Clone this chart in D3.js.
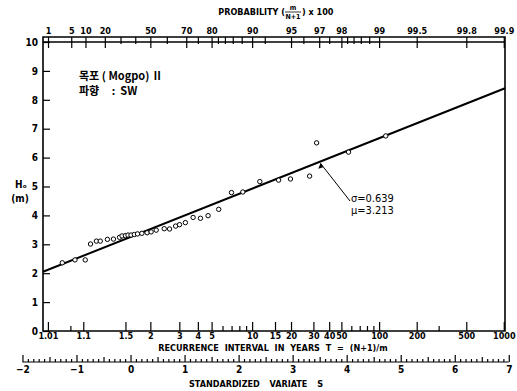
<!DOCTYPE html>
<html>
<head>
<meta charset="utf-8">
<script src="https://cdn.jsdelivr.net/npm/d3@7"></script>
<style>
  body { margin: 0; background: #fff; }
  text { font-family: "DejaVu Sans Condensed", "DejaVu Sans", sans-serif; fill: #000; }
  .kr { font-family: "Noto Sans CJK KR", sans-serif; white-space: pre; }
</style>
</head>
<body>
<div id="viz"></div>
<script>
// recurrence interval T (years) and wave height H0 (m) of the plotted points
const pointT = [1.03, 1.065, 1.11, 1.14, 1.18, 1.21, 1.275, 1.34, 1.415, 1.45, 1.5, 1.54, 1.59,
  1.65, 1.71, 1.8, 1.92, 2.02, 2.16, 2.41, 2.6, 2.84, 3.01, 3.29, 3.71, 4.17, 4.72, 5.63,
  6.99, 8.5, 11.45, 16, 19.8, 28, 31.8, 57, 113]
const pointH = [2.36, 2.46, 2.46, 3.01, 3.11, 3.11, 3.17, 3.18, 3.24, 3.29, 3.3, 3.32, 3.32,
  3.34, 3.36, 3.38, 3.4, 3.43, 3.49, 3.54, 3.53, 3.63, 3.68, 3.75, 3.93, 3.9, 3.99, 4.21,
  4.79, 4.81, 5.17, 5.22, 5.26, 5.36, 6.51, 6.19, 6.75]

// fitted line, ends at the plot edges (standardized variate S, H0)
const fitS = [-1.62, 6.93]
const fitH = [2.05, 8.4]

// tick labels
const hTicks = [0, 1, 2, 3, 4, 5, 6, 7, 8, 9, 10]
const tMajor = [1.01, 1.1, 1.5, 2, 3, 4, 5, 10, 15, 20, 30, 40, 50, 100, 200, 500, 1000]
const tMinor = [1.05, 6, 7, 8, 9, 60, 70, 80, 90, 300]
const pMajor = [1, 5, 10, 20, 50, 70, 80, 90, 95, 97, 98, 99, 99.5, 99.8, 99.9]
const pMinor = [30, 40, 60, 75, 82, 84, 86, 88, 92, 96, 97.5, 98.2, 98.4, 98.6, 98.8]
const sMajor = [-2, -1, 0, 1, 2, 3, 4, 5, 6, 7]

document.addEventListener("DOMContentLoaded", () => {

  const width = 517
  const height = 391

  const svg = d3.select("#viz").append("svg")
    .attr("width", width)
    .attr("height", height)

  // gumbel reduced variate
  const fromT = t => -Math.log(-Math.log(1 - 1 / t))
  const fromP = p => -Math.log(-Math.log(p / 100))

  const x = d3.scaleLinear().domain([-1.62, 6.93]).range([43, 505])
  const y = d3.scaleLinear().domain([0, 10]).range([331, 42])
  const topY = 37

  // frame
  svg.append("path")
    .attr("d", `M${x.range()[0]},${topY}V${y(0)}H${x.range()[1]}V${topY}Z`)
    .attr("fill", "none").attr("stroke", "#000").attr("stroke-width", 1.6)
  svg.append("line")
    .attr("x1", x.range()[0]).attr("x2", x.range()[1])
    .attr("y1", y(10)).attr("y2", y(10))
    .attr("stroke", "#000").attr("stroke-width", 1.3)

  const styleAxis = g => {
    g.select(".domain").remove()
    g.selectAll("line").attr("stroke", "#000").attr("stroke-width", 1.2)
    g.selectAll("text").attr("font-size", 9).attr("font-weight", "bold")
  }

  // H axis
  svg.append("g")
    .attr("transform", `translate(${x.range()[0]},0)`)
    .call(d3.axisLeft(y).tickValues(hTicks).tickSize(-7).tickPadding(5).tickFormat(d3.format("d")))
    .call(styleAxis)
    .selectAll("text").attr("font-size", 10)

  // recurrence interval axis
  svg.append("g")
    .attr("transform", `translate(0,${y(0)})`)
    .call(d3.axisBottom(x).tickValues(tMinor.map(fromT)).tickSize(-5).tickFormat(""))
    .call(styleAxis)
  svg.append("g")
    .attr("transform", `translate(0,${y(0)})`)
    .call(d3.axisBottom(x).tickValues(tMajor.map(fromT)).tickSize(-9).tickPadding(2)
      .tickFormat((d, i) => tMajor[i]))
    .call(styleAxis)

  // probability axis
  svg.append("g")
    .attr("transform", `translate(0,${topY})`)
    .call(d3.axisTop(x).tickValues(pMinor.map(fromP)).tickSize(-7).tickFormat(""))
    .call(styleAxis)
  svg.append("g")
    .attr("transform", `translate(0,${topY})`)
    .call(d3.axisTop(x).tickValues(pMajor.map(fromP)).tickSize(-11).tickPadding(3)
      .tickFormat((d, i) => pMajor[i]))
    .call(styleAxis)

  // standardized variate axis
  const sY = 362
  const sTicks = d3.range(-20, 71).map(d => d / 10)
  svg.append("line")
    .attr("x1", x(-2)).attr("x2", x(7)).attr("y1", sY).attr("y2", sY)
    .attr("stroke", "#000").attr("stroke-width", 1.2)
  svg.append("g")
    .attr("transform", `translate(0,${sY})`)
    .call(d3.axisTop(x).tickValues(sTicks).tickSize(3).tickFormat(""))
    .call(styleAxis)
    .selectAll(".tick line")
    .attr("y2", d => Math.abs(d - Math.round(d)) < 1e-6 ? -7 : Math.abs(d * 2 - Math.round(d * 2)) < 1e-6 ? -5 : -3)
  svg.append("g")
    .attr("transform", `translate(0,${sY})`)
    .call(d3.axisBottom(x).tickValues(sMajor).tickSize(0).tickPadding(4).tickFormat(d3.format("d")))
    .call(styleAxis)
    .selectAll("text").attr("font-size", 10)

  // axis titles
  const bold = sel => sel.attr("font-size", 9).attr("font-weight", "bold")
  svg.append("text").call(bold)
    .attr("x", 285).attr("y", 15).attr("text-anchor", "end")
    .text("PROBABILITY  (")
  svg.append("text").call(bold)
    .attr("x", 293).attr("y", 10).attr("text-anchor", "middle").attr("font-size", 7)
    .text("m")
  svg.append("line")
    .attr("x1", 285).attr("x2", 301).attr("y1", 12).attr("y2", 12)
    .attr("stroke", "#000").attr("stroke-width", 0.8)
  svg.append("text").call(bold)
    .attr("x", 293).attr("y", 19).attr("text-anchor", "middle").attr("font-size", 7)
    .text("N+1")
  svg.append("text").call(bold)
    .attr("x", 302).attr("y", 15)
    .text(") x 100")

  svg.append("text").call(bold)
    .attr("x", 273).attr("y", 351)
    .attr("text-anchor", "middle")
    .attr("word-spacing", 3)
    .text("RECURRENCE  INTERVAL  IN YEARS  T = (N+1)/m")

  svg.append("text").call(bold)
    .attr("x", 256).attr("y", 387)
    .attr("text-anchor", "middle")
    .attr("word-spacing", 7)
    .text("STANDARDIZED  VARIATE   S")

  svg.append("text")
    .attr("x", 21).attr("y", 188)
    .attr("text-anchor", "middle")
    .attr("font-size", 10).attr("font-weight", "bold")
    .text("H\u2092")
  svg.append("text")
    .attr("x", 20).attr("y", 202)
    .attr("text-anchor", "middle")
    .attr("font-size", 10).attr("font-weight", "bold")
    .text("(m)")

  // station label
  svg.append("text").attr("class", "kr")
    .attr("x", 79).attr("y", 80)
    .attr("font-size", 11).attr("font-weight", "bold")
    .text("목포 ( Mogpo) Ⅱ")
  svg.append("text").attr("class", "kr")
    .attr("x", 79).attr("y", 95)
    .attr("font-size", 11).attr("font-weight", "bold")
    .text("파향     :  SW")

  // fitted line
  svg.append("path")
    .datum(d3.zip(fitS, fitH))
    .attr("d", d3.line().x(d => x(d[0])).y(d => y(d[1])))
    .attr("fill", "none").attr("stroke", "#000").attr("stroke-width", 2)

  // points
  svg.selectAll("circle.pt")
    .data(d3.zip(pointT, pointH))
    .enter()
    .append("circle")
    .attr("class", "pt")
    .attr("cx", d => x(fromT(d[0])))
    .attr("cy", d => y(d[1]))
    .attr("r", 2.2)
    .attr("fill", "#fff")
    .attr("stroke", "#000")
    .attr("stroke-width", 1)

  // parameter annotation with arrow
  const tip = [3.52, 5.86]
  const tipX = x(tip[0]), tipY = y(tip[1])
  svg.append("line")
    .attr("x1", tipX).attr("y1", tipY + 2)
    .attr("x2", 350).attr("y2", 201)
    .attr("stroke", "#000").attr("stroke-width", 1)
  svg.append("path")
    .attr("d", `M${tipX},${tipY + 1}l-2.5,6l5,-1.5Z`)
    .attr("fill", "#000")

  const ann = svg.append("text")
    .attr("x", 351).attr("y", 202)
    .attr("font-size", 11)
  ann.append("tspan").text("σ=0.639")
  ann.append("tspan").attr("x", 351).attr("dy", 12).text("μ=3.213")

})
</script>
</body>
</html>
